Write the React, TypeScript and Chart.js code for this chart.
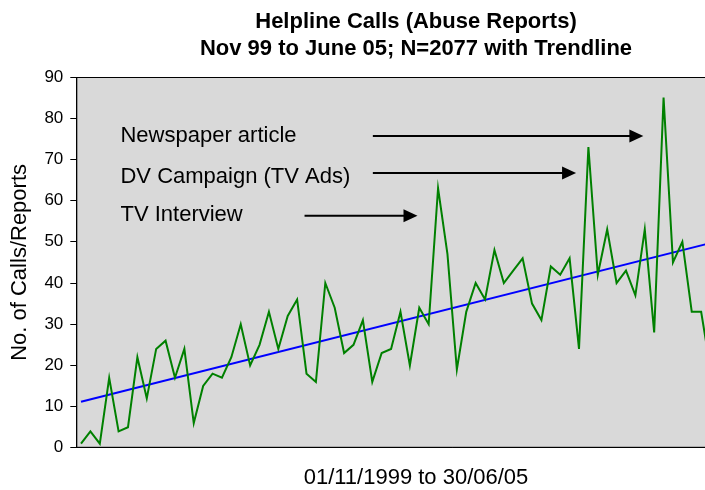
import React, { useEffect, useRef } from 'react';
import { Chart, registerables } from 'chart.js';

Chart.register(...registerables);

const FONT = '"Liberation Sans", Arial, sans-serif';

const titleLines = ['Helpline Calls (Abuse Reports)', 'Nov 99 to June 05; N=2077 with Trendline'];
const xAxisTitle = '01/11/1999 to 30/06/05';
const yAxisTitle = 'No. of Calls/Reports';

// Monthly categories, Nov 1999 .. Jun 2005 (80 months)
const monthNames = ['Jan', 'Feb', 'Mar', 'Apr', 'May', 'Jun', 'Jul', 'Aug', 'Sep', 'Oct', 'Nov', 'Dec'];
const firstYear = 1999;
const firstMonthIndex = 10;
const monthCount = 80;
const months: string[] = [];
for (let i = 0; i < monthCount; i++) {
  const m = (firstMonthIndex + i) % 12;
  const y = firstYear + Math.floor((firstMonthIndex + i) / 12);
  months.push(`${monthNames[m]} ${y}`);
}

// Calls per month (visible part of the picture)
const calls = [
  1, 4, 1, 17, 4, 5, 22, 12, 24, 26,
  17, 24, 6, 15, 18, 17, 22, 30, 20, 25,
  33, 24, 32, 36, 18, 16, 40, 34, 23, 25,
  31, 16, 23, 24, 33, 20, 34, 30, 63, 47,
  19, 33, 40, 36, 48, 40, 43, 46, 35, 31,
  44, 42, 46, 24, 73, 42, 53, 40, 43, 37,
  53, 28, 85, 45, 50, 33, 33, 19,
];

// Trendline end values (first and last month)
const trendStart = 11.2;
const trendEnd = 56.6;
const trend = months.map((_, i) => (i === 0 ? trendStart : i === months.length - 1 ? trendEnd : null));

const yMin = 0;
const yMax = 90;
const yStep = 10;

// Annotations, in data units (month index, calls)
const annotations = [
  { text: 'Newspaper article', textAt: 4.2, textValue: 75.6, from: 31.06, to: 59.85, value: 75.7 },
  { text: 'DV Campaign (TV Ads)', textAt: 4.2, textValue: 65.8, from: 31.06, to: 52.69, value: 66.7 },
  { text: 'TV Interview', textAt: 4.2, textValue: 56.4, from: 23.79, to: 35.81, value: 56.3 },
];

const framePlugin = {
  id: 'frameAndNotes',
  beforeDraw(chart: any) {
    const { ctx, chartArea: a } = chart;
    ctx.save();
    ctx.fillStyle = '#d9d9d9';
    ctx.fillRect(a.left, a.top, a.right - a.left, a.bottom - a.top);
    ctx.strokeStyle = '#000';
    ctx.lineWidth = 1;
    ctx.strokeRect(a.left + 0.5, a.top + 0.5, a.right - a.left - 1, a.bottom - a.top - 1);
    ctx.restore();
  },
  afterDatasetsDraw(chart: any) {
    const { ctx } = chart;
    const xs = chart.scales.x;
    const ys = chart.scales.y;
    ctx.save();
    ctx.fillStyle = '#000';
    ctx.strokeStyle = '#000';
    ctx.font = `22px ${FONT}`;
    ctx.textBaseline = 'middle';
    ctx.textAlign = 'left';
    for (const n of annotations) {
      ctx.fillText(n.text, xs.getPixelForValue(n.textAt), ys.getPixelForValue(n.textValue));
      const x1 = xs.getPixelForValue(n.from);
      const x2 = xs.getPixelForValue(n.to);
      const y = ys.getPixelForValue(n.value);
      const head = 14;
      ctx.lineWidth = 2;
      ctx.beginPath();
      ctx.moveTo(x1, y);
      ctx.lineTo(x2 - head + 2, y);
      ctx.stroke();
      ctx.beginPath();
      ctx.moveTo(x2, y);
      ctx.lineTo(x2 - head, y - 6.5);
      ctx.lineTo(x2 - head, y + 6.5);
      ctx.closePath();
      ctx.fill();
    }
    ctx.restore();
  },
};

export default function App() {
  const canvasRef = useRef<HTMLCanvasElement | null>(null);

  useEffect(() => {
    if (!canvasRef.current) return;
    const chart = new Chart(canvasRef.current, {
      type: 'line',
      data: {
        labels: months,
        datasets: [
          {
            label: 'Calls',
            data: calls,
            borderColor: '#008000',
            backgroundColor: '#008000',
            borderWidth: 2,
            pointRadius: 0,
            tension: 0,
          },
          {
            label: 'Trendline',
            data: trend,
            borderColor: '#0000ff',
            backgroundColor: '#0000ff',
            borderWidth: 2,
            pointRadius: 0,
            spanGaps: true,
            tension: 0,
          },
        ],
      },
      options: {
        animation: false,
        responsive: true,
        maintainAspectRatio: false,
        layout: { padding: { left: 4, right: 2, top: 0, bottom: 0 } },
        plugins: {
          legend: { display: false },
          tooltip: { enabled: false },
          title: {
            display: true,
            text: titleLines,
            color: '#000',
            font: { family: FONT, size: 22, weight: 'bold', lineHeight: 1.25 },
            padding: { top: 8, bottom: 14 },
          },
          subtitle: {
            display: true,
            position: 'bottom',
            text: xAxisTitle,
            color: '#000',
            font: { family: FONT, size: 22, weight: 'normal', lineHeight: 1.1 },
            padding: { top: 10, bottom: 0 },
          },
        },
        scales: {
          x: {
            type: 'category',
            offset: true,
            grid: { display: false },
            ticks: { display: false },
            border: { display: true, color: '#000', width: 1 },
          },
          y: {
            min: yMin,
            max: yMax,
            ticks: { stepSize: yStep, color: '#000', font: { family: FONT, size: 17 }, padding: 7 },
            grid: { drawOnChartArea: false, drawTicks: true, tickLength: 6, color: '#000' },
            border: { display: true, color: '#000', width: 1 },
            title: {
              display: true,
              text: yAxisTitle,
              color: '#000',
              font: { family: FONT, size: 22, lineHeight: 1.2 },
              padding: { top: 3, bottom: 4 },
            },
          },
        },
      },
      plugins: [framePlugin],
    });
    return () => chart.destroy();
  }, []);

  return (
    <div
      style={{
        position: 'fixed',
        left: 0,
        top: 0,
        width: 705,
        height: 490,
        overflow: 'hidden',
        background: '#fff',
      }}
    >
      <div style={{ position: 'relative', width: 830, height: 490 }}>
        <canvas ref={canvasRef} style={{ display: 'block' }} />
      </div>
    </div>
  );
}
